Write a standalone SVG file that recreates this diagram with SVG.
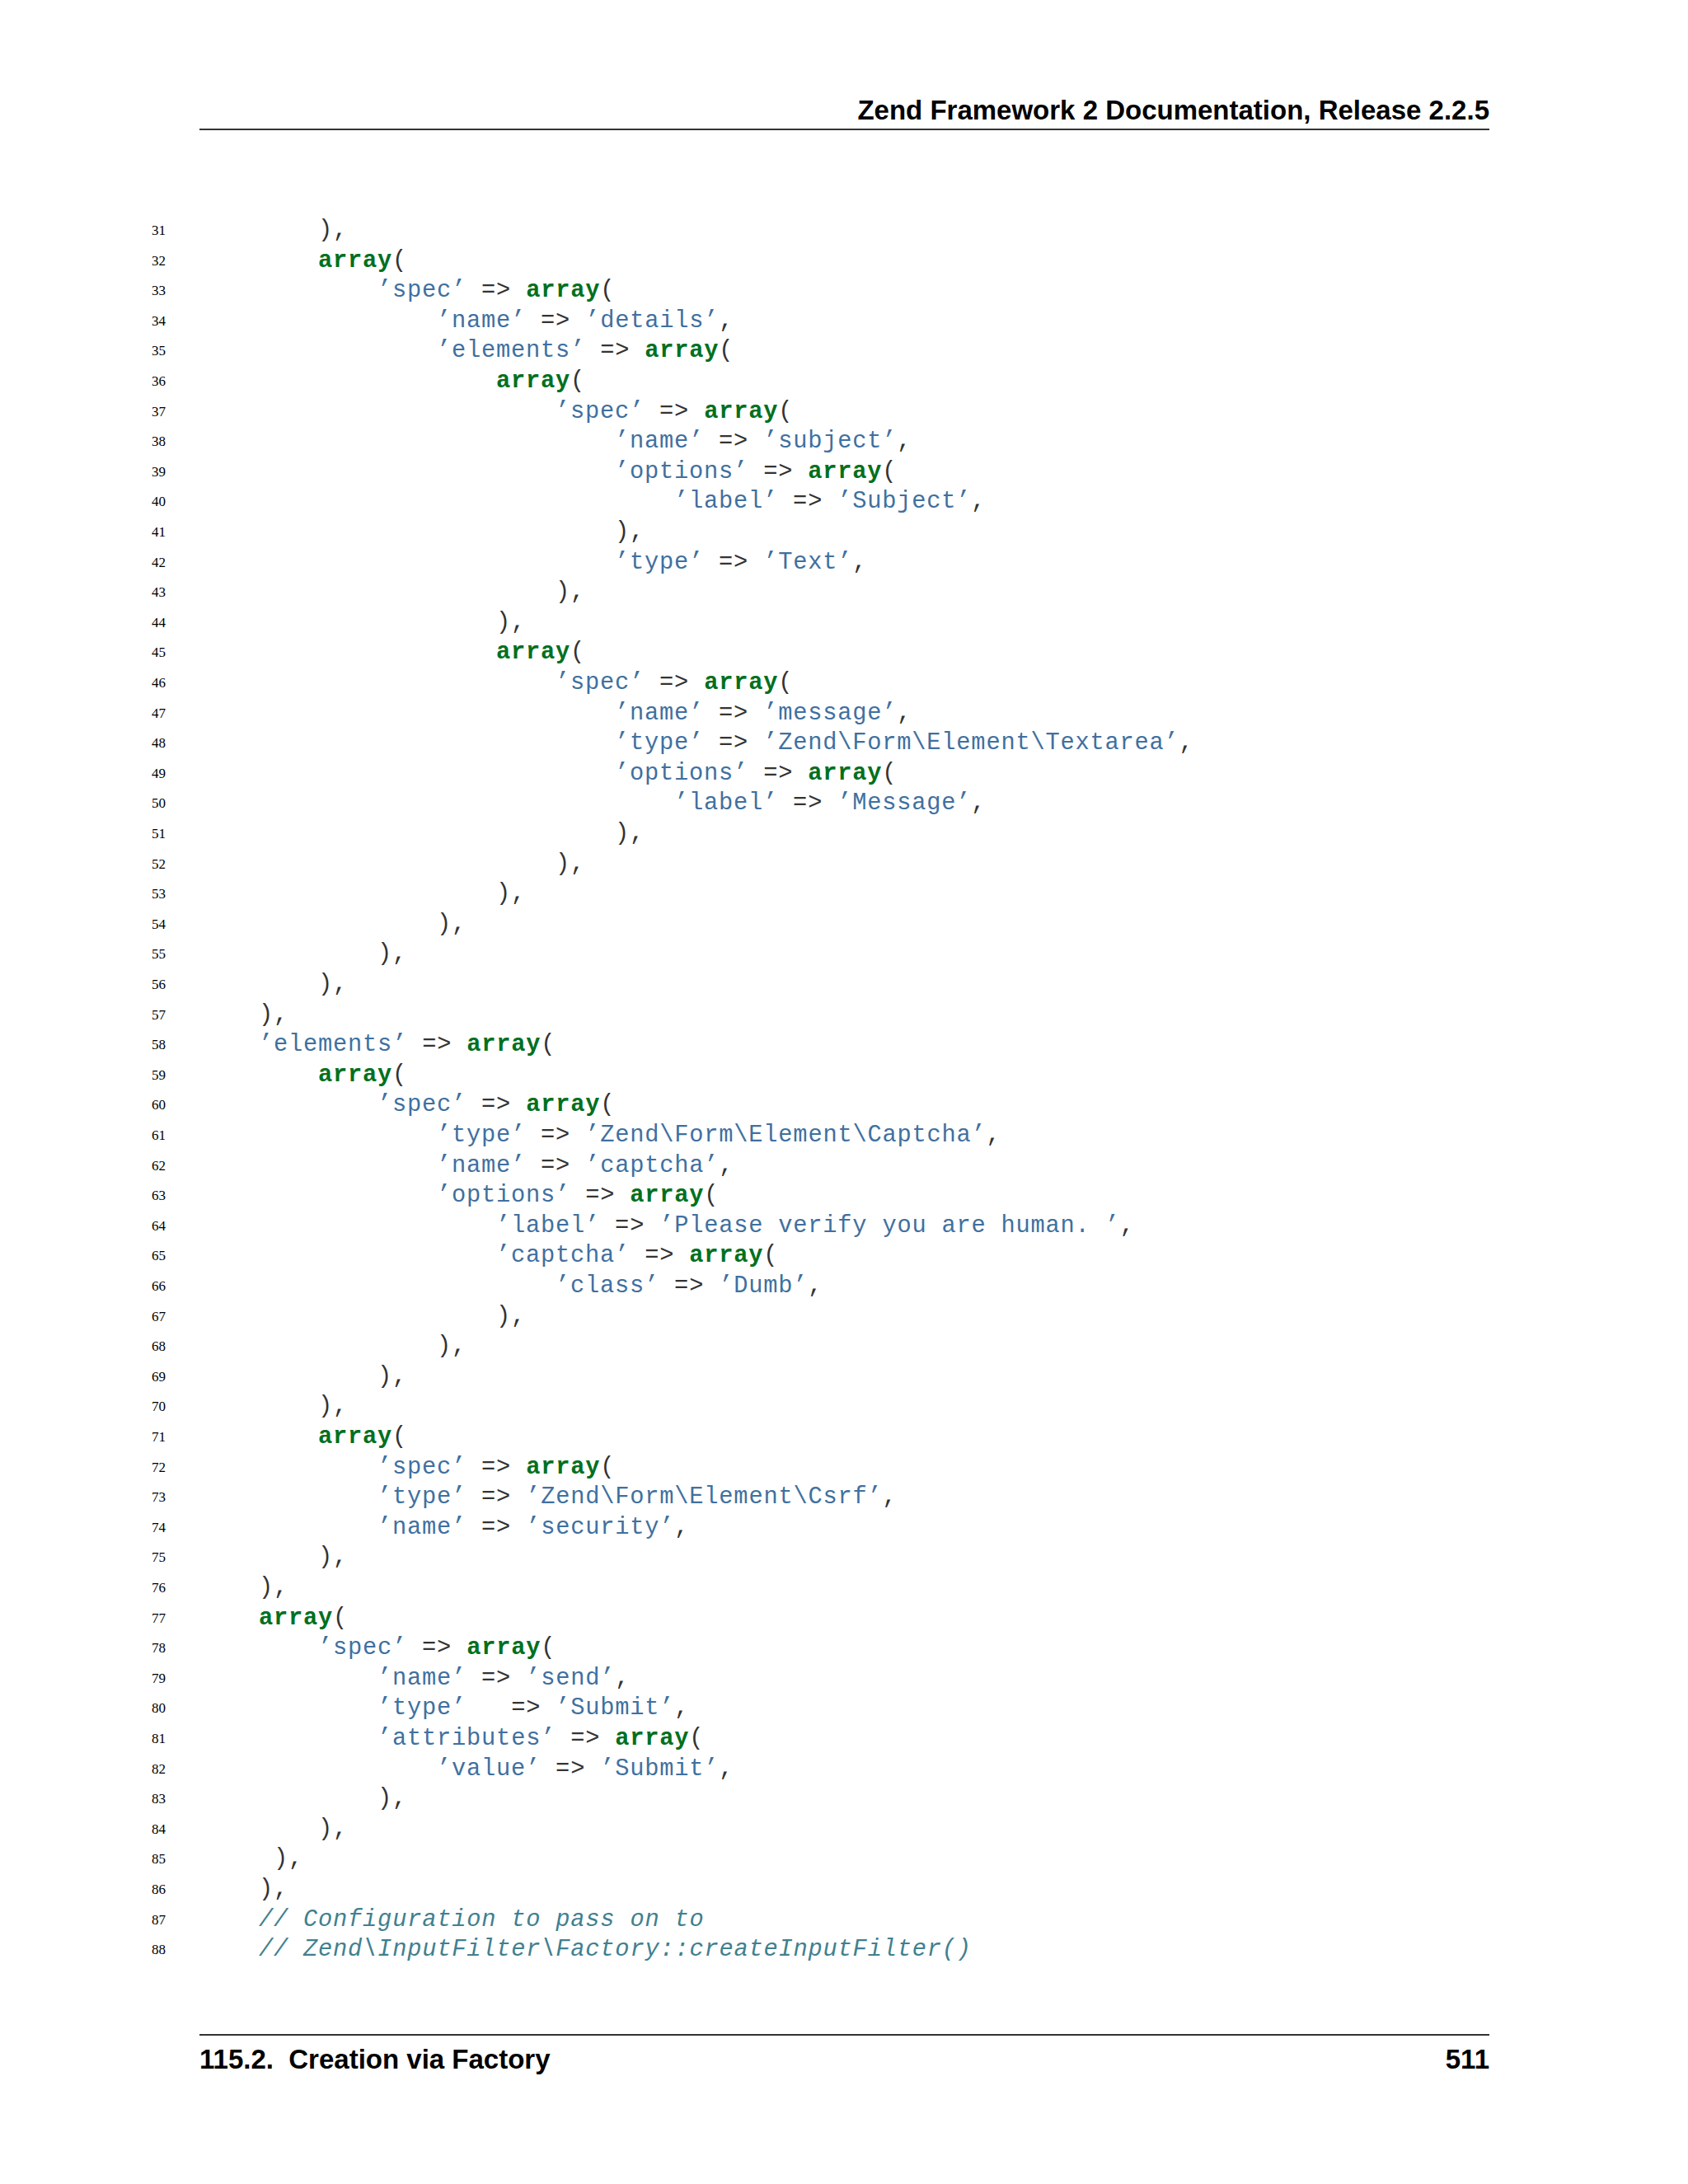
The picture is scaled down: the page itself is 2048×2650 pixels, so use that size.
<svg xmlns="http://www.w3.org/2000/svg" width="2048" height="2650" viewBox="0 0 2048 2650">
<style>
text{white-space:pre}
.c{font-family:"Liberation Mono",monospace;font-size:28.7px;fill:#333;letter-spacing:0.8px}
.s{fill:#4070a0}.k{fill:#007020;font-weight:bold}
.m{fill:#408090;font-style:italic}
.n{font-family:"Liberation Serif",serif;font-size:17px;fill:#000}
.h{font-family:"Liberation Sans",Arial,sans-serif;font-weight:bold;font-size:33px;fill:#000}
</style>
<rect width="2048" height="2650" fill="#fff"/>
<g id="header">
<line x1="242" y1="157" x2="1807" y2="157" stroke="#333" stroke-width="2"/>
<text class="h" x="1807" y="145" text-anchor="end">Zend Framework 2 Documentation, Release 2.2.5</text>
</g>
<g id="footer">
<line x1="242" y1="2469" x2="1807" y2="2469" stroke="#333" stroke-width="2"/>
<text class="h" x="242" y="2510">115.2.  Creation via Factory</text>
<text class="h" x="1807" y="2510" text-anchor="end">511</text>
</g>
<g id="linenumbers">
<text class="n" x="184" y="285">31</text><text class="n" x="184" y="322">32</text><text class="n" x="184" y="358">33</text><text class="n" x="184" y="395">34</text><text class="n" x="184" y="431">35</text><text class="n" x="184" y="468">36</text><text class="n" x="184" y="505">37</text><text class="n" x="184" y="541">38</text><text class="n" x="184" y="578">39</text><text class="n" x="184" y="614">40</text><text class="n" x="184" y="651">41</text><text class="n" x="184" y="688">42</text><text class="n" x="184" y="724">43</text><text class="n" x="184" y="761">44</text><text class="n" x="184" y="797">45</text><text class="n" x="184" y="834">46</text><text class="n" x="184" y="871">47</text><text class="n" x="184" y="907">48</text><text class="n" x="184" y="944">49</text><text class="n" x="184" y="980">50</text><text class="n" x="184" y="1017">51</text><text class="n" x="184" y="1054">52</text><text class="n" x="184" y="1090">53</text><text class="n" x="184" y="1127">54</text><text class="n" x="184" y="1163">55</text><text class="n" x="184" y="1200">56</text><text class="n" x="184" y="1237">57</text><text class="n" x="184" y="1273">58</text><text class="n" x="184" y="1310">59</text><text class="n" x="184" y="1346">60</text><text class="n" x="184" y="1383">61</text><text class="n" x="184" y="1420">62</text><text class="n" x="184" y="1456">63</text><text class="n" x="184" y="1493">64</text><text class="n" x="184" y="1529">65</text><text class="n" x="184" y="1566">66</text><text class="n" x="184" y="1603">67</text><text class="n" x="184" y="1639">68</text><text class="n" x="184" y="1676">69</text><text class="n" x="184" y="1712">70</text><text class="n" x="184" y="1749">71</text><text class="n" x="184" y="1786">72</text><text class="n" x="184" y="1822">73</text><text class="n" x="184" y="1859">74</text><text class="n" x="184" y="1895">75</text><text class="n" x="184" y="1932">76</text><text class="n" x="184" y="1969">77</text><text class="n" x="184" y="2005">78</text><text class="n" x="184" y="2042">79</text><text class="n" x="184" y="2078">80</text><text class="n" x="184" y="2115">81</text><text class="n" x="184" y="2152">82</text><text class="n" x="184" y="2188">83</text><text class="n" x="184" y="2225">84</text><text class="n" x="184" y="2261">85</text><text class="n" x="184" y="2298">86</text><text class="n" x="184" y="2335">87</text><text class="n" x="184" y="2371">88</text>
</g>
<g id="code">
<text class="c" x="386" y="287">),</text>
<text class="c" x="386" y="324"><tspan class="k">array</tspan>(</text>
<text class="c" x="458" y="360"><tspan class="s">’spec’</tspan> =&gt; <tspan class="k">array</tspan>(</text>
<text class="c" x="530" y="397"><tspan class="s">’name’</tspan> =&gt; <tspan class="s">’details’</tspan>,</text>
<text class="c" x="530" y="433"><tspan class="s">’elements’</tspan> =&gt; <tspan class="k">array</tspan>(</text>
<text class="c" x="602" y="470"><tspan class="k">array</tspan>(</text>
<text class="c" x="674" y="507"><tspan class="s">’spec’</tspan> =&gt; <tspan class="k">array</tspan>(</text>
<text class="c" x="746" y="543"><tspan class="s">’name’</tspan> =&gt; <tspan class="s">’subject’</tspan>,</text>
<text class="c" x="746" y="580"><tspan class="s">’options’</tspan> =&gt; <tspan class="k">array</tspan>(</text>
<text class="c" x="818" y="616"><tspan class="s">’label’</tspan> =&gt; <tspan class="s">’Subject’</tspan>,</text>
<text class="c" x="746" y="653">),</text>
<text class="c" x="746" y="690"><tspan class="s">’type’</tspan> =&gt; <tspan class="s">’Text’</tspan>,</text>
<text class="c" x="674" y="726">),</text>
<text class="c" x="602" y="763">),</text>
<text class="c" x="602" y="799"><tspan class="k">array</tspan>(</text>
<text class="c" x="674" y="836"><tspan class="s">’spec’</tspan> =&gt; <tspan class="k">array</tspan>(</text>
<text class="c" x="746" y="873"><tspan class="s">’name’</tspan> =&gt; <tspan class="s">’message’</tspan>,</text>
<text class="c" x="746" y="909"><tspan class="s">’type’</tspan> =&gt; <tspan class="s">’Zend\Form\Element\Textarea’</tspan>,</text>
<text class="c" x="746" y="946"><tspan class="s">’options’</tspan> =&gt; <tspan class="k">array</tspan>(</text>
<text class="c" x="818" y="982"><tspan class="s">’label’</tspan> =&gt; <tspan class="s">’Message’</tspan>,</text>
<text class="c" x="746" y="1019">),</text>
<text class="c" x="674" y="1056">),</text>
<text class="c" x="602" y="1092">),</text>
<text class="c" x="530" y="1129">),</text>
<text class="c" x="458" y="1165">),</text>
<text class="c" x="386" y="1202">),</text>
<text class="c" x="314" y="1239">),</text>
<text class="c" x="314" y="1275"><tspan class="s">’elements’</tspan> =&gt; <tspan class="k">array</tspan>(</text>
<text class="c" x="386" y="1312"><tspan class="k">array</tspan>(</text>
<text class="c" x="458" y="1348"><tspan class="s">’spec’</tspan> =&gt; <tspan class="k">array</tspan>(</text>
<text class="c" x="530" y="1385"><tspan class="s">’type’</tspan> =&gt; <tspan class="s">’Zend\Form\Element\Captcha’</tspan>,</text>
<text class="c" x="530" y="1422"><tspan class="s">’name’</tspan> =&gt; <tspan class="s">’captcha’</tspan>,</text>
<text class="c" x="530" y="1458"><tspan class="s">’options’</tspan> =&gt; <tspan class="k">array</tspan>(</text>
<text class="c" x="602" y="1495"><tspan class="s">’label’</tspan> =&gt; <tspan class="s">’Please verify you are human. ’</tspan>,</text>
<text class="c" x="602" y="1531"><tspan class="s">’captcha’</tspan> =&gt; <tspan class="k">array</tspan>(</text>
<text class="c" x="674" y="1568"><tspan class="s">’class’</tspan> =&gt; <tspan class="s">’Dumb’</tspan>,</text>
<text class="c" x="602" y="1605">),</text>
<text class="c" x="530" y="1641">),</text>
<text class="c" x="458" y="1678">),</text>
<text class="c" x="386" y="1714">),</text>
<text class="c" x="386" y="1751"><tspan class="k">array</tspan>(</text>
<text class="c" x="458" y="1788"><tspan class="s">’spec’</tspan> =&gt; <tspan class="k">array</tspan>(</text>
<text class="c" x="458" y="1824"><tspan class="s">’type’</tspan> =&gt; <tspan class="s">’Zend\Form\Element\Csrf’</tspan>,</text>
<text class="c" x="458" y="1861"><tspan class="s">’name’</tspan> =&gt; <tspan class="s">’security’</tspan>,</text>
<text class="c" x="386" y="1897">),</text>
<text class="c" x="314" y="1934">),</text>
<text class="c" x="314" y="1971"><tspan class="k">array</tspan>(</text>
<text class="c" x="386" y="2007"><tspan class="s">’spec’</tspan> =&gt; <tspan class="k">array</tspan>(</text>
<text class="c" x="458" y="2044"><tspan class="s">’name’</tspan> =&gt; <tspan class="s">’send’</tspan>,</text>
<text class="c" x="458" y="2080"><tspan class="s">’type’</tspan>   =&gt; <tspan class="s">’Submit’</tspan>,</text>
<text class="c" x="458" y="2117"><tspan class="s">’attributes’</tspan> =&gt; <tspan class="k">array</tspan>(</text>
<text class="c" x="530" y="2154"><tspan class="s">’value’</tspan> =&gt; <tspan class="s">’Submit’</tspan>,</text>
<text class="c" x="458" y="2190">),</text>
<text class="c" x="386" y="2227">),</text>
<text class="c" x="332" y="2263">),</text>
<text class="c" x="314" y="2300">),</text>
<text class="c m" x="314" y="2337">// Configuration to pass on to</text>
<text class="c m" x="314" y="2373">// Zend\InputFilter\Factory::createInputFilter()</text>
</g>
</svg>
